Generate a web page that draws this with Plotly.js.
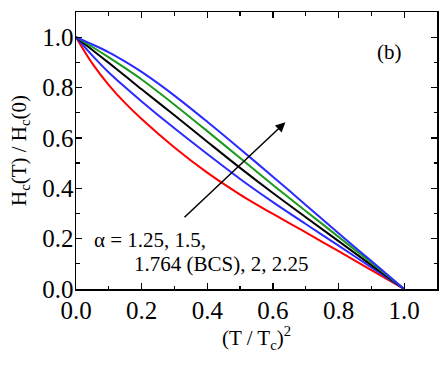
<!DOCTYPE html>
<html>
<head>
<meta charset="utf-8">
<script src="https://cdn.plot.ly/plotly-3.0.1.min.js"></script>
<style>
  body { margin: 0; background: #fff; }
  #chart { width: 443px; height: 366px; }
</style>
</head>
<body>
<div id="chart"></div>
<script>
// (T/Tc)^2 sample points
var tSq = [0, 0.05, 0.1, 0.15, 0.2, 0.3, 0.4, 0.5, 0.6, 0.7, 0.8, 0.9, 1.0];

// Hc(T)/Hc(0), one array per alpha
var hA125 = [1, 0.895, 0.810, 0.738, 0.675, 0.562, 0.462, 0.375, 0.298, 0.225, 0.150, 0.075, 0];
var hA150 = [1, 0.927, 0.860, 0.801, 0.745, 0.638, 0.536, 0.437, 0.345, 0.258, 0.172, 0.086, 0];
var hA1764 = [1, 0.949, 0.898, 0.846, 0.793, 0.690, 0.585, 0.481, 0.381, 0.285, 0.190, 0.095, 0];
var hA200 = [1, 0.961, 0.920, 0.877, 0.832, 0.732, 0.627, 0.520, 0.413, 0.310, 0.207, 0.104, 0];
var hA225 = [1, 0.971, 0.940, 0.903, 0.862, 0.768, 0.664, 0.556, 0.446, 0.334, 0.221, 0.111, 0];

var font = 'Liberation Serif';

function curve(y, color) {
    return {
        x: tSq,
        y: y,
        mode: 'lines',
        type: 'scatter',
        line: {color: color, width: 2, shape: 'spline', smoothing: 0.9},
        hoverinfo: 'skip'
    };
}

var data = [
    curve(hA125, '#ff0000'),
    curve(hA150, '#2a2aff'),
    curve(hA1764, '#000000'),
    curve(hA200, '#1c9a1c'),
    curve(hA225, '#2a2aff')
];

var axisStyle = {
    range: [0, 1.1],
    dtick: 0.2,
    tick0: 0,
    tickformat: '.1f',
    ticks: 'inside',
    ticklen: 6,
    tickwidth: 1.2,
    tickcolor: '#000',
    minor: {ticks: 'inside', dtick: 0.1, ticklen: 3.5, tickwidth: 1.2, tickcolor: '#000'},
    showline: true,
    linewidth: 1.5,
    linecolor: '#000',
    mirror: 'ticks',
    showgrid: false,
    zeroline: false,
    tickfont: {family: font, size: 25, color: '#000'}
};

var layout = {
    width: 443,
    height: 366,
    margin: {l: 76, r: 6, t: 12, b: 77},
    showlegend: false,
    paper_bgcolor: '#fff',
    plot_bgcolor: '#fff',
    font: {family: font, size: 20, color: '#000'},
    xaxis: Object.assign({}, axisStyle, {
        ticklabelstandoff: -2,
        title: {text: '(T / T<sub>c</sub>)<sup>2</sup>', font: {family: font, size: 21, color: '#000'}, standoff: 6}
    }),
    yaxis: Object.assign({}, axisStyle, {
        ticklabelstandoff: -4,
        title: {text: 'H<sub>c</sub>(T) / H<sub>c</sub>(0)', font: {family: font, size: 21, color: '#000'}, standoff: 10}
    }),
    annotations: [
        {
            x: 0.638, y: 0.662, ax: 0.326, ay: 0.279,
            xref: 'x', yref: 'y', axref: 'x', ayref: 'y',
            text: '', showarrow: true,
            arrowhead: 2, arrowsize: 1.3, arrowwidth: 1.5, arrowcolor: '#000'
        },
        {
            x: 0.955, y: 0.94, xref: 'x', yref: 'y',
            text: '(b)', showarrow: false,
            font: {family: font, size: 21, color: '#000'}
        },
        {
            x: 0.05, y: 0.195, xref: 'x', yref: 'y', xanchor: 'left',
            text: '\u03b1 = 1.25, 1.5,', showarrow: false,
            font: {family: font, size: 21, color: '#000'}
        },
        {
            x: 0.17, y: 0.10, xref: 'x', yref: 'y', xanchor: 'left',
            text: '1.764 (BCS), 2, 2.25', showarrow: false,
            font: {family: font, size: 21, color: '#000'}
        }
    ]
};

Plotly.newPlot('chart', data, layout, {displayModeBar: false, staticPlot: true});
</script>
</body>
</html>
